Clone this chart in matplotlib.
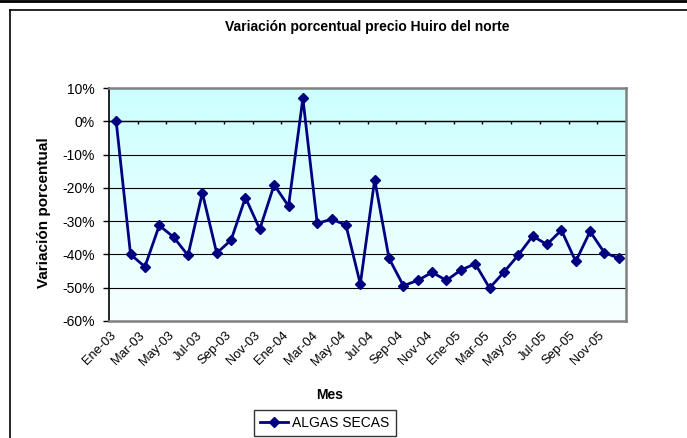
import matplotlib.pyplot as plt
import numpy as np
from matplotlib.lines import Line2D
from matplotlib.transforms import ScaledTranslation

plt.rcParams['font.family'] = ['Liberation Sans', 'DejaVu Sans']

# Meses Ene-03 .. Dic-05
meses = ['Ene-03', 'Feb-03', 'Mar-03', 'Abr-03', 'May-03', 'Jun-03',
         'Jul-03', 'Ago-03', 'Sep-03', 'Oct-03', 'Nov-03', 'Dic-03',
         'Ene-04', 'Feb-04', 'Mar-04', 'Abr-04', 'May-04', 'Jun-04',
         'Jul-04', 'Ago-04', 'Sep-04', 'Oct-04', 'Nov-04', 'Dic-04',
         'Ene-05', 'Feb-05', 'Mar-05', 'Abr-05', 'May-05', 'Jun-05',
         'Jul-05', 'Ago-05', 'Sep-05', 'Oct-05', 'Nov-05', 'Dic-05']
# variacion porcentual (%)
algas_secas = [0.0, -40.0, -43.7, -31.3, -34.8, -40.3, -21.5, -39.6, -35.7, -22.9,
               -32.4, -19.1, -25.5, 6.9, -30.7, -29.4, -31.2, -48.9, -17.5, -41.2,
               -49.4, -47.8, -45.4, -47.8, -44.7, -42.8, -50.1, -45.3, -40.2, -34.5,
               -37.0, -32.7, -42.1, -33.1, -39.5, -41.1]
yticks = [10, 0, -10, -20, -30, -40, -50, -60]

W, H = 687, 438
fig = plt.figure(figsize=(W / 100, H / 100), dpi=100)
ax = fig.add_axes([109 / W, 1 - 321 / H, (626 - 109) / W, (321 - 88) / H])

n = len(meses)
x = np.arange(n)
ax.set_xlim(-0.5, n - 0.5)
ax.set_ylim(-60, 10)

# fondo degradado
grad = np.linspace(0, 1, 256).reshape(-1, 1)
top = np.array([0.80, 1.0, 1.0])
bot = np.array([0.97, 1.0, 1.0])
img = top + (bot - top) * grad[:, :, None] * np.ones((1, 1, 3))
ax.imshow(img, extent=[-0.5, n - 0.5, -60, 10], aspect='auto', zorder=0)

for v in yticks[1:-1]:
    ax.axhline(v, color='black', lw=0.8, zorder=1)

# eje x en 0% con marcas cada 2 meses
ax.axhline(0, color='black', lw=1.0, zorder=2)
bounds = np.arange(1.5, n - 0.5, 2)
ax.vlines(bounds, -0.9, 0, color='black', lw=1.0, zorder=2)

ax.plot(x, algas_secas, color='#000080', lw=2, marker='D', ms=5,
        label='ALGAS SECAS', zorder=3)

ax.set_yticks(yticks)
ax.set_yticklabels([f'{v}%' for v in yticks], fontsize=10)
ax.set_xticks(x[::2])
ax.set_xticklabels(meses[::2], rotation=45, ha='right', va='top',
                   rotation_mode='anchor', fontsize=9.3)
ax.tick_params(axis='x', length=0, pad=6)
ax.tick_params(axis='y', length=4, width=1, color='black', pad=6)
shift = ScaledTranslation(-6 / 100, 0, fig.dpi_scale_trans)
for lbl in ax.get_xticklabels():
    lbl.set_transform(lbl.get_transform() + shift)

for s in ['top', 'right', 'bottom']:
    ax.spines[s].set_color('#808080')
    ax.spines[s].set_linewidth(1.8)
ax.spines['left'].set_color('black')
ax.spines['left'].set_linewidth(1.2)

fig.text(367 / W, 1 - 27 / H, 'Variación porcentual precio Huiro del norte',
         ha='center', va='center', fontsize=10, fontweight='bold')
fig.text(44 / W, 1 - 213 / H, 'Variación porcentual', rotation=90,
         ha='center', va='center', fontsize=11, fontweight='bold')
fig.text(330 / W, 1 - 395 / H, 'Mes', ha='center', va='center',
         fontsize=10, fontweight='bold')

leg = fig.legend(loc='center', bbox_to_anchor=(325 / W, 1 - 423 / H),
                 fontsize=10, frameon=True, fancybox=False, handlelength=2.0,
                 borderpad=0.45, handletextpad=0.3, borderaxespad=0)
leg.get_frame().set_edgecolor('black')
leg.get_frame().set_linewidth(1.0)

# marco del grafico
fig.add_artist(Line2D([0, 1], [1 - 1 / H, 1 - 1 / H], color='black', lw=2,
                      transform=fig.transFigure))
fig.add_artist(Line2D([9.5 / W, 1], [1 - 10 / H, 1 - 10 / H], color='black',
                      lw=1.2, transform=fig.transFigure))
fig.add_artist(Line2D([9.5 / W, 9.5 / W], [0, 1 - 10 / H], color='black',
                      lw=1.2, transform=fig.transFigure))

fig.savefig('out.png', dpi=100)
